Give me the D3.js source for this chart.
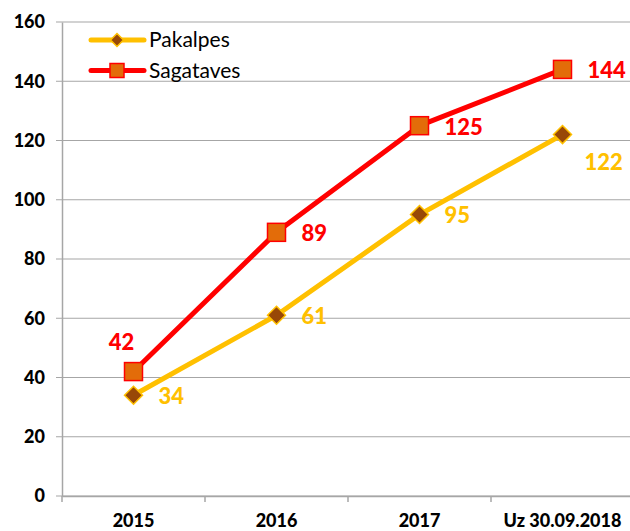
<!DOCTYPE html>
<html>
<head>
<meta charset="utf-8">
<script src="https://cdn.jsdelivr.net/npm/d3@7"></script>
<style>
  body { margin: 0; background: #fff; }
  text { font-family: Lato, 'Open Sans', sans-serif; }
</style>
</head>
<body>
<div id="chart-area"></div>
<script>
// data
const categories = ['2015', '2016', '2017', 'Uz 30.09.2018']
const pakalpes = [34, 61, 95, 122]
const sagataves = [42, 89, 125, 144]
const yTicks = [0, 20, 40, 60, 80, 100, 120, 140, 160]

const margin = { left: 62, right: -4, top: 22, bottom: 35 }
const width = 630 - margin.left - margin.right
const height = 531 - margin.top - margin.bottom

const svg = d3.select('#chart-area')
              .append('svg')
              .attr('width', 630)
              .attr('height', 531)

const g = svg.append('g')
             .attr('transform', 'translate(' + margin.left + ',' + margin.top + ')')

// scales
const x = d3.scaleBand()
            .domain(categories)
            .range([0, width])

const y = d3.scaleLinear()
            .domain([0, 160])
            .range([height, 0])

// gridlines
g.selectAll('.grid')
 .data(yTicks)
 .enter()
 .append('line')
 .attr('class', 'grid')
 .attr('x1', -6)
 .attr('x2', width)
 .attr('y1', d => y(d))
 .attr('y2', d => y(d))
 .attr('stroke', '#a6a6a6')
 .attr('stroke-width', 1.2)

// y axis
const yAxis = g.append('g')
               .call(d3.axisLeft(y).tickValues(yTicks).tickSize(0).tickPadding(17))
yAxis.select('.domain').attr('stroke', '#a6a6a6').attr('stroke-width', 1.5)
yAxis.selectAll('text')
     .attr('font-size', '18px')
     .attr('font-weight', '900')
     .attr('fill', '#000')
     .attr('font-family', 'Lato, sans-serif')

// x axis
const xAxis = g.append('g')
               .attr('transform', 'translate(0,' + height + ')')
               .call(d3.axisBottom(x).tickSize(0).tickPadding(18))
xAxis.select('.domain').attr('stroke', '#a6a6a6').attr('stroke-width', 1.5)
xAxis.selectAll('text')
     .attr('font-size', '18px')
     .attr('font-weight', '900')
     .attr('fill', '#000')
     .attr('font-family', 'Lato, sans-serif')

// x tick marks at band edges
g.selectAll('.xtick')
 .data(categories)
 .enter()
 .append('line')
 .attr('x1', d => x(d))
 .attr('x2', d => x(d))
 .attr('y1', height)
 .attr('y2', height + 6)
 .attr('stroke', '#a6a6a6')
 .attr('stroke-width', 1.5)

const cx = d => x(d) + x.bandwidth() / 2

const line = d3.line()
               .x(d => cx(d.cat))
               .y(d => y(d.v))

const series = [
  { name: 'Pakalpes', values: pakalpes, color: '#ffc000', fill: '#984807', marker: 'diamond' },
  { name: 'Sagataves', values: sagataves, color: '#ff0000', fill: '#e36c09', marker: 'square' }
]

const drawMarker = (sel, s, size) => {
  if (s.marker === 'square') {
    sel.append('rect')
       .attr('x', -size / 2)
       .attr('y', -size / 2)
       .attr('width', size)
       .attr('height', size)
       .attr('fill', s.fill)
       .attr('stroke', s.color)
       .attr('stroke-width', 1.5)
  } else {
    const h = size / 2
    sel.append('path')
       .attr('d', 'M0,' + (-h) + 'L' + h + ',0L0,' + h + 'L' + (-h) + ',0Z')
       .attr('fill', s.fill)
       .attr('stroke', s.color)
       .attr('stroke-width', 1.5)
  }
}

series.forEach(s => {
  const pts = categories.map((c, i) => ({ cat: c, v: s.values[i] }))
  g.append('path')
   .datum(pts)
   .attr('d', line)
   .attr('fill', 'none')
   .attr('stroke', s.color)
   .attr('stroke-width', 5)
   .attr('stroke-linejoin', 'round')

  pts.forEach(p => {
    const m = g.append('g')
               .attr('transform', 'translate(' + cx(p.cat) + ',' + y(p.v) + ')')
    drawMarker(m, s, 18)
  })
})

// data labels
const labelOffset = (sName, i) => {
  if (sName === 'Sagataves' && i === 0) return [-12, -29, 'middle']
  if (sName === 'Pakalpes' && i === 3) return [22, 28, 'start']
  return [25, 1, 'start']
}

series.forEach(s => {
  s.values.forEach((v, i) => {
    const [dx, dy, anchor] = labelOffset(s.name, i)
    g.append('text')
     .attr('x', cx(categories[i]) + dx)
     .attr('y', y(v) + dy)
     .attr('dy', '0.36em')
     .attr('text-anchor', anchor)
     .attr('font-size', '22px')
     .attr('font-weight', '900')
     .attr('fill', s.color)
     .text(v)
  })
})

// legend
const legend = svg.append('g')
series.forEach((s, i) => {
  const ly = 40 + i * 30.5
  legend.append('line')
        .attr('x1', 91)
        .attr('x2', 144)
        .attr('y1', ly)
        .attr('y2', ly)
        .attr('stroke', s.color)
        .attr('stroke-width', 5)
        .attr('stroke-linecap', 'round')
  const m = legend.append('g').attr('transform', 'translate(117,' + ly + ')')
  drawMarker(m, s, s.marker === 'square' ? 14 : 13)
  legend.append('text')
        .attr('x', 149)
        .attr('y', ly)
        .attr('dy', '0.35em')
        .attr('font-size', '21px')
        .attr('fill', '#000')
        .text(s.name)
})
</script>
</body>
</html>
